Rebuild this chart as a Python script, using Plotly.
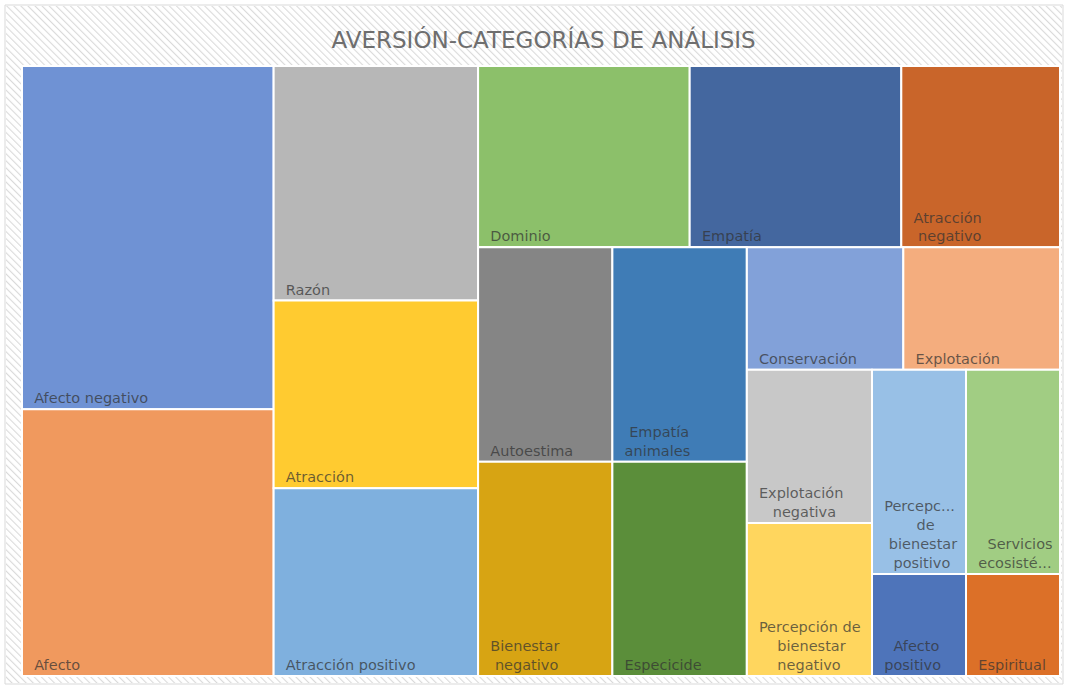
import base64
import plotly.graph_objects as go

# categories (Excel treemap, sorted by value); 'grupo' only holds four equal cells together
ids = ['Afecto negativo', 'Afecto', 'Razón', 'Atracción', 'Atracción positivo',
       'Dominio', 'Empatía', 'Atracción negativo', 'grupo',
       'Autoestima', 'Empatía animales', 'Bienestar negativo', 'Especicide',
       'Conservación', 'Explotación', 'Explotación negativa',
       'Percepción de bienestar negativo', 'Percepción de bienestar positivo',
       'Servicios ecosistémicos', 'Afecto positivo', 'Espiritual']
padres = ['', '', '', '', '', '', '', '', '',
          'grupo', 'grupo', 'grupo', 'grupo',
          '', '', '', '', '', '', '', '']
valores = [9, 7, 5, 4, 4, 4, 4, 3, 12,
           3, 3, 3, 3,
           2, 2, 2, 2, 2, 2, 1, 1]
# labels as wrapped/truncated in the original
etiquetas = ['Afecto negativo', 'Afecto', 'Razón', 'Atracción', 'Atracción positivo',
             'Dominio', 'Empatía', 'Atracción<br>negativo', '',
             'Autoestima', 'Empatía<br>animales', 'Bienestar<br>negativo', 'Especicide',
             'Conservación', 'Explotación', 'Explotación<br>negativa',
             'Percepción de<br>bienestar<br>negativo', 'Percepc...<br>de<br>bienestar<br>positivo',
             'Servicios<br>ecosisté...', 'Afecto<br>positivo', 'Espiritual']
colores = ['#6f92d4', '#f0995e', '#b7b7b7', '#ffcb30', '#7fb0de',
           '#8cc06a', '#44679f', '#c9652a', '#ffffff',
           '#858585', '#3f7cb6', '#d7a413', '#5b8e3a',
           '#82a1d9', '#f4ad7e', '#c8c8c8',
           '#ffd65e', '#98c0e6', '#a1cd83', '#4e74ba', '#dc7028']

W, H = 1068, 689


def centrar(etiqueta):
    # Excel centres wrapped lines; pad shorter lines with non-breaking spaces
    if not etiqueta:
        return ''
    lineas = etiqueta.split('<br>')
    ancho = max(len(l) for l in lineas)
    return '<br>'.join('\u00a0\u00a0' + '\u00a0' * round((ancho - len(l)) * 0.9) + l for l in lineas)


textos = [centrar(e) for e in etiquetas]

fig = go.Figure(go.Treemap(
    ids=ids,
    labels=ids,
    parents=padres,
    values=valores,
    branchvalues='total',
    text=textos,
    texttemplate='%{text}',
    textposition='bottom left',
    sort=False,
    marker=dict(colors=colores, line=dict(color='white', width=2),
                pad=dict(t=0, l=0, r=0, b=0)),
    textfont=dict(family='DejaVu Sans, sans-serif', size=14.5, color='rgba(50,50,50,0.72)'),
    pathbar=dict(visible=False),
    tiling=dict(packing='squarify', squarifyratio=1.13, pad=0),
    hovertemplate='%{label}: %{value}<extra></extra>',
    domain=dict(x=[22 / W, 1060 / W], y=[1 - 676 / H, 1 - 66 / H]),
))

# diagonal hatch background like the Excel chart area
svg = ("<svg xmlns='http://www.w3.org/2000/svg' width='1056' height='677'>"
       "<defs><pattern id='h' width='5' height='5' patternUnits='userSpaceOnUse' patternTransform='rotate(-45)'>"
       "<rect width='5' height='5' fill='white'/>"
       "<line x1='0' y1='0' x2='0' y2='5' stroke='#dadada' stroke-width='2.2'/></pattern></defs>"
       "<rect width='100%' height='100%' fill='url(#h)'/></svg>")
src = 'data:image/svg+xml;base64,' + base64.b64encode(svg.encode()).decode()

fig.update_layout(
    width=W, height=H,
    margin=dict(l=0, r=0, t=0, b=0),
    paper_bgcolor='white',
    title=dict(text='AVERSIÓN-CATEGORÍAS DE ANÁLISIS', x=0.509, xanchor='center',
               y=1 - 40 / H, yanchor='middle',
               font=dict(family='DejaVu Sans, sans-serif', size=23, color='#6e6e6e')),
    images=[dict(source=src, xref='paper', yref='paper', x=6 / W, y=1 - 6 / H,
                 sizex=1056 / W, sizey=677 / H, sizing='stretch', layer='below')],
    shapes=[dict(type='rect', xref='paper', yref='paper', x0=5 / W, x1=1063 / W,
                 y0=1 - 684 / H, y1=1 - 5 / H, line=dict(color='#d9d9d9', width=1))],
)

fig.write_html('out.html', config={'displayModeBar': False},
               post_script="document.body.style.margin='0';")
